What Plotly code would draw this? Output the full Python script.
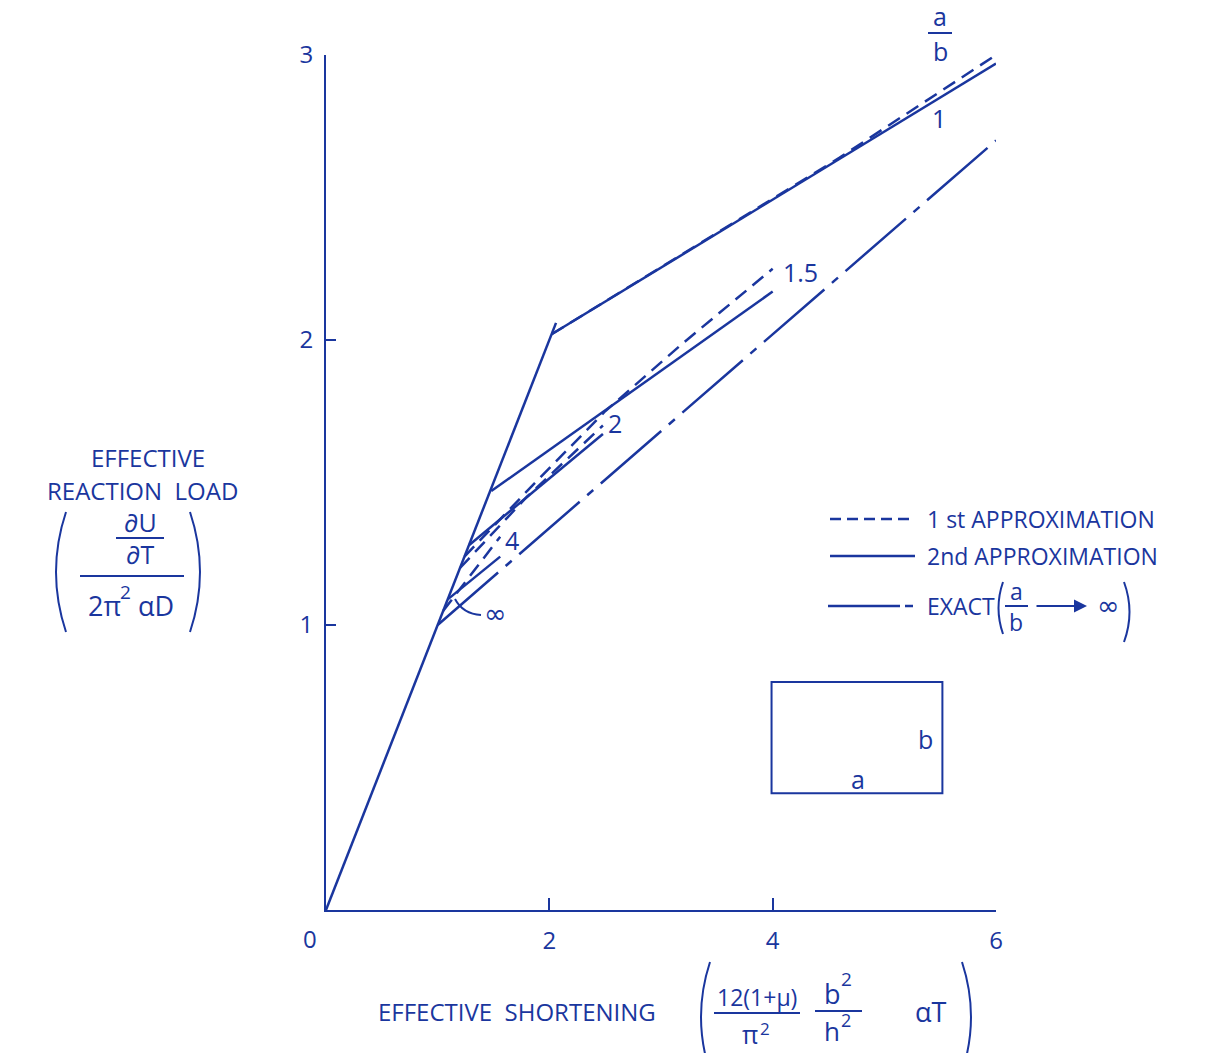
import plotly.graph_objects as go

BLUE = "#1a369e"
FONT = "Open Sans"
SYM_FONT = "DejaVu Sans"
LW = 2.5

# ---- data ---------------------------------------------------------------
# pre-buckling branch common to all aspect ratios
pre_x = [0.0, 2.06]
pre_y = [0.0, 2.06]

# 2nd approximation, one branch per aspect ratio a/b
second_1_x = [2.02, 6.0]
second_1_y = [2.02, 2.97]
second_15_x = [1.48, 4.0]
second_15_y = [1.47, 2.17]
second_2_x = [1.28, 2.48]
second_2_y = [1.28, 1.67]
second_4_x = [1.09, 1.56]
second_4_y = [1.09, 1.24]

# 1st approximation
first_1_x = [2.02, 4.6, 6.0]
first_1_y = [2.02, 2.64, 3.00]
first_15_x = [1.24, 1.85, 2.5, 3.2, 4.0]
first_15_y = [1.24, 1.49, 1.75, 1.99, 2.25]
first_2_x = [1.20, 1.80, 2.48]
first_2_y = [1.20, 1.45, 1.70]
first_4_x = [1.05, 1.56]
first_4_y = [1.05, 1.31]

# exact solution for a/b -> infinity
exact_x = [1.0, 6.0]
exact_y = [1.0, 2.70]

# curve labels (a/b values) and where they sit
ratio_labels = ["1", "1.5", "2", "4"]
ratio_label_x = [5.49, 4.25, 2.59, 1.67]
ratio_label_y = [2.78, 2.24, 1.71, 1.30]
inf_label_x, inf_label_y = 1.52, 1.04

x_ticks = [2, 4, 6]
y_ticks = [1, 2, 3]

# ---- figure -------------------------------------------------------------
W, H = 1219, 1053
ML, MR, MT, MB = 326, 223, 55, 143
PW, PH = W - ML - MR, H - MT - MB


def px(xp):
    return (xp - ML) / PW


def py(yp):
    return (H - MB - yp) / PH


fig = go.Figure()


def add_line(x, y, dash="solid"):
    fig.add_trace(go.Scatter(x=x, y=y, mode="lines", showlegend=False,
                             hoverinfo="skip",
                             line=dict(color=BLUE, width=LW, dash=dash)))


DASH = "14px,8px"
DASHDOT = "80px,10px,8px,10px"

add_line(pre_x, pre_y)
for xs, ys in [(second_1_x, second_1_y), (second_15_x, second_15_y),
               (second_2_x, second_2_y), (second_4_x, second_4_y)]:
    add_line(xs, ys)
for xs, ys in [(first_1_x, first_1_y), (first_15_x, first_15_y),
               (first_2_x, first_2_y), (first_4_x, first_4_y)]:
    add_line(xs, ys, DASH)
add_line(exact_x, exact_y, DASHDOT)

ann = []
shapes = []


def text(x, y, s, size=24, xref="paper", yref="paper", xanchor="center",
         family=FONT):
    ann.append(dict(x=x, y=y, xref=xref, yref=yref, text=s, showarrow=False,
                    xanchor=xanchor, yanchor="middle",
                    font=dict(family=family, size=size, color=BLUE)))


def ptext(xp, yp, s, size=24, xanchor="center", family=FONT):
    text(px(xp), py(yp), s, size=size, xanchor=xanchor, family=family)


def pline(x0, y0, x1, y1, dash="solid", width=2):
    shapes.append(dict(type="line", xref="paper", yref="paper",
                       x0=px(x0), y0=py(y0), x1=px(x1), y1=py(y1),
                       line=dict(color=BLUE, width=width, dash=dash)))


def paren(xe, xm, ytop, ybot):
    ymid = (ytop + ybot) / 2
    path = "M {},{} Q {},{} {},{}".format(px(xe), py(ytop), px(xm), py(ymid),
                                          px(xe), py(ybot))
    shapes.append(dict(type="path", xref="paper", yref="paper", path=path,
                       line=dict(color=BLUE, width=2)))


# curve labels
for s, lx, ly in zip(ratio_labels, ratio_label_x, ratio_label_y):
    text(lx, ly, s, size=25, xref="x", yref="y")
text(inf_label_x, inf_label_y, "∞", size=27, xref="x", yref="y", family=SYM_FONT)

# a/b heading over the curve labels
ptext(940, 16, "a", size=25)
pline(928, 33, 952, 33)
ptext(940, 51, "b", size=25)

# leader from the infinity label
shapes.append(dict(type="path", xref="paper", yref="paper",
                   path="M {},{} Q {},{} {},{}".format(px(481), py(615), px(463), py(614),
                                                      px(455), py(599)),
                   line=dict(color=BLUE, width=2)))

# plate sketch
shapes.append(dict(type="rect", xref="x", yref="y", x0=3.99, x1=5.52, y0=0.41, y1=0.80,
                   line=dict(color=BLUE, width=2)))
text(4.76, 0.46, "a", size=25, xref="x", yref="y")
text(5.37, 0.60, "b", size=25, xref="x", yref="y")

# origin label
ptext(310, 938, "0", size=24)

# y-axis title
ptext(148, 457, "EFFECTIVE", size=24)
ptext(142, 490, "REACTION  LOAD", size=24)
ptext(140, 522, "∂U", size=25)
pline(116, 538, 164, 538)
ptext(140, 554, "∂T", size=25)
pline(80, 576, 184, 576)
ptext(104, 606, "2π", size=27)
ptext(125, 592, "2", size=19)
ptext(156, 606, "αD", size=27)
paren(66, 46, 512, 632)
paren(190, 210, 512, 632)

# x-axis title
ptext(517, 1012, "EFFECTIVE  SHORTENING", size=24)
paren(710, 692, 962, 1072)
paren(962, 980, 962, 1072)
ptext(757, 997, "12(1+μ)", size=23)
pline(714, 1013, 800, 1013)
ptext(750, 1034, "π", size=25)
ptext(765, 1028, "2", size=17)
ptext(832, 993, "b", size=27)
ptext(846, 979, "2", size=19)
pline(815, 1011, 862, 1011)
ptext(832, 1031, "h", size=26)
ptext(846, 1020, "2", size=18)
ptext(930, 1012, "αT", size=27)

# key
pline(830, 519, 915, 519, dash="11px,6px", width=LW)
ptext(925, 519, "1 st APPROXIMATION", size=23, xanchor="left")
pline(830, 556, 915, 556, width=LW)
ptext(925, 556, "2nd APPROXIMATION", size=23, xanchor="left")
pline(828, 606, 914, 606, dash="72px,5px,8px,100px", width=LW)
ptext(925, 606, "EXACT", size=23, xanchor="left")
paren(1003, 994, 582, 634)
ptext(1016, 591, "a", size=23)
pline(1005, 606, 1028, 606)
ptext(1016, 622, "b", size=23)
ann.append(dict(x=px(1087), y=py(606), xref="paper", yref="paper",
                ax=-52, ay=0, text="", showarrow=True, arrowhead=2,
                arrowsize=1.3, arrowwidth=2, arrowcolor=BLUE))
ptext(1108, 606, "∞", size=27, family=SYM_FONT)
paren(1124, 1135, 582, 642)

axis_common = dict(showgrid=False, zeroline=False, showline=True,
                   linecolor=BLUE, linewidth=2, ticks="inside",
                   tickcolor=BLUE, tickwidth=2,
                   tickfont=dict(family=FONT, size=24, color=BLUE))

fig.update_layout(
    width=W, height=H,
    margin=dict(l=ML, r=MR, t=MT, b=MB, autoexpand=False),
    paper_bgcolor="white", plot_bgcolor="white",
    showlegend=False,
    annotations=ann, shapes=shapes,
    xaxis=dict(range=[0, 6], tickvals=x_ticks, ticklen=12,
               ticklabelstandoff=8, **axis_common),
    yaxis=dict(range=[0, 3], tickvals=y_ticks, ticklen=10,
               ticklabelstandoff=6, **axis_common),
)

fig.write_html("out.html")
